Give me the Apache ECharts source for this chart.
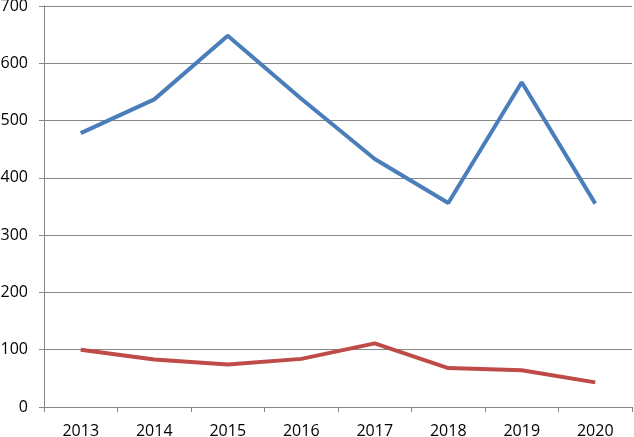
<!DOCTYPE html>
<html><head><meta charset="utf-8">
<script src="https://cdn.jsdelivr.net/npm/echarts@6/dist/echarts.min.js"></script>
<style>html,body{margin:0;padding:0;background:#fff}#c{width:634px;height:437px}</style>
</head><body><div id="c"></div>
<script>
const categories = ['2013','2014','2015','2016','2017','2018','2019','2020'];
const seriesBlue = [478, 537, 648, 538, 433, 356, 567, 355];
const seriesRed = [100, 83, 74, 84, 111, 68, 64, 43];
const yTicks = {min: 0, max: 700, interval: 100};

const chart = echarts.init(document.getElementById('c'));
const font = 'Open Sans, Liberation Sans, sans-serif';
chart.setOption({
  animation: false,
  grid: {left: 44, right: 2, top: 6, bottom: 30, containLabel: false, outerBoundsMode: 'none'},
  xAxis: {
    type: 'category', data: categories, boundaryGap: true,
    axisLine: {lineStyle: {color: '#868686', width: 1}},
    axisTick: {show: true, length: 5, lineStyle: {color: '#868686'}},
    axisLabel: {color: '#000', fontSize: 16, fontFamily: font, margin: 16}
  },
  yAxis: {
    type: 'value', min: yTicks.min, max: yTicks.max, interval: yTicks.interval,
    axisLine: {show: true, lineStyle: {color: '#868686', width: 1}},
    axisTick: {show: true, length: 5, lineStyle: {color: '#868686'}},
    axisLabel: {color: '#000', fontSize: 16, fontFamily: font, margin: 16},
    splitLine: {lineStyle: {color: '#868686', width: 1}}
  },
  series: [
    {type: 'line', data: seriesBlue, symbol: 'none', lineStyle: {color: '#4A7EBB', width: 4}},
    {type: 'line', data: seriesRed, symbol: 'none', lineStyle: {color: '#BE4B48', width: 4}}
  ]
});
</script></body></html>
